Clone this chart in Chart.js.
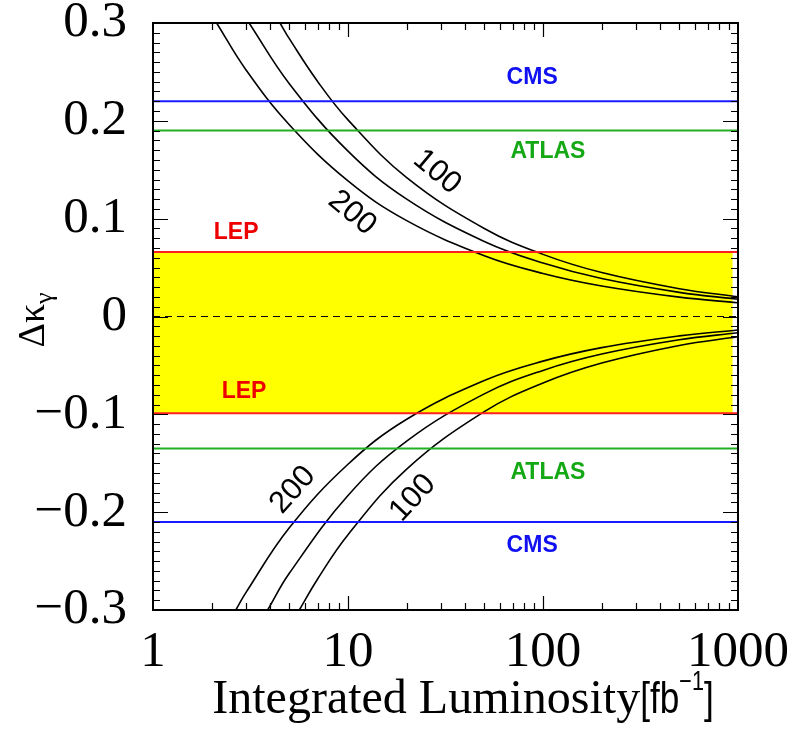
<!DOCTYPE html>
<html>
<head>
<meta charset="utf-8">
<script src="https://cdn.jsdelivr.net/npm/chart.js@4.4.0/dist/chart.umd.min.js"></script>
<style>
  html, body { margin: 0; padding: 0; background: #fff; }
  #wrap { width: 800px; height: 738px; }
</style>
</head>
<body>
<div id="wrap"><canvas id="grafico" width="800" height="738"></canvas></div>
<script>
// Luminosidad integrada (fb^-1) y Δκγ leídos del gráfico original
// curvas superiores
const lum100Arriba = [4.48, 5, 7, 10, 20, 50, 100, 200, 500, 1000];
const dk100Arriba  = [0.30, 0.284, 0.240, 0.201, 0.142, 0.090, 0.0635, 0.0449, 0.0284, 0.0201];
const lumMedArriba = [3.11, 5, 10, 20, 50, 100, 200, 500, 1000];
const dkMedArriba  = [0.30, 0.238, 0.169, 0.120, 0.0767, 0.0546, 0.0388, 0.0247, 0.0176];
const lum200Arriba = [2.12, 3, 5, 10, 20, 50, 100, 200, 500, 1000];
const dk200Arriba  = [0.30, 0.252, 0.196, 0.1386, 0.098, 0.0622, 0.044, 0.0312, 0.0198, 0.014];
// curvas inferiores
const lum200Abajo = [2.66, 3, 5, 10, 20, 50, 100, 200, 500, 1000];
const dk200Abajo  = [-0.30, -0.282, -0.216, -0.151, -0.105, -0.0654, -0.0456, -0.0318, -0.0198, -0.0138];
const lumMedAbajo = [3.87, 5, 10, 20, 50, 100, 200, 500, 1000];
const dkMedAbajo  = [-0.30, -0.2625, -0.183, -0.1274, -0.0791, -0.0551, -0.0384, -0.0238, -0.0166];
const lum100Abajo = [5.63, 7, 10, 20, 50, 100, 200, 500, 1000];
const dk100Abajo  = [-0.30, -0.268, -0.223, -0.156, -0.0973, -0.068, -0.0476, -0.0296, -0.0207];

// límites horizontales
const limiteLEP   = [0.066, -0.099];
const limiteATLAS = [0.19, -0.135];
const limiteCMS   = [0.22, -0.21];
const rangoLum = [1, 1000];
const rangoBanda = [1, 940];

// ticks
const ticksX = [1, 10, 100, 1000];
const ticksXMenores = [2, 3, 4, 5, 6, 7, 8, 9, 20, 30, 40, 50, 60, 70, 80, 90, 200, 300, 400, 500, 600, 700, 800, 900];
const rangoY = [-0.3, 0.3];

// etiquetas de texto (en coordenadas de datos)
const etiquetas = [
  { texto: 'CMS',   x: 88,   y: 0.244,   color: '#1010f0', tipo: 'exp' },
  { texto: 'ATLAS', x: 106,  y: 0.168,   color: '#14a814', tipo: 'exp' },
  { texto: 'LEP',   x: 2.67, y: 0.0854,  color: '#ee0000', tipo: 'exp' },
  { texto: 'LEP',   x: 2.93, y: -0.0772, color: '#ee0000', tipo: 'exp' },
  { texto: 'ATLAS', x: 106,  y: -0.160,  color: '#14a814', tipo: 'exp' },
  { texto: 'CMS',   x: 88,   y: -0.2346, color: '#1010f0', tipo: 'exp' },
  { texto: '100', x: 28.6, y: 0.1477,  color: '#000', tipo: 'curva', angulo: 40 },
  { texto: '200', x: 10.5, y: 0.1058,  color: '#000', tipo: 'curva', angulo: 40 },
  { texto: '200', x: 5.22, y: -0.1774, color: '#000', tipo: 'curva', angulo: -48 },
  { texto: '100', x: 21.5, y: -0.1856, color: '#000', tipo: 'curva', angulo: -47 }
];

const aPuntos = (xs, ys) => xs.map((x, i) => ({ x: x, y: ys[i] }));
const horizontal = (v, r) => [{ x: r[0], y: v }, { x: r[1], y: v }];

function curva(xs, ys) {
  return {
    data: aPuntos(xs, ys),
    borderColor: '#000',
    borderWidth: 1.6,
    pointRadius: 0,
    showLine: true,
    tension: 0.4,
    fill: false
  };
}

function linea(v, color) {
  return {
    data: horizontal(v, rangoLum),
    borderColor: color,
    borderWidth: 2,
    pointRadius: 0,
    showLine: true,
    fill: false
  };
}

// Plugin: marco y marcas hacia dentro en los cuatro lados
const marcoPlugin = {
  id: 'marco',
  afterDatasetsDraw(chart) {
    const { ctx, chartArea: a, scales: { x, y } } = chart;
    ctx.save();
    ctx.strokeStyle = '#000';
    ctx.lineWidth = 1.2;
    ctx.beginPath();
    ticksXMenores.forEach(v => {
      const px = Math.round(x.getPixelForValue(v)) + 0.5;
      ctx.moveTo(px, a.bottom); ctx.lineTo(px, a.bottom - 7);
      ctx.moveTo(px, a.top); ctx.lineTo(px, a.top + 7);
    });
    [10, 100].forEach(v => {
      const px = Math.round(x.getPixelForValue(v)) + 0.5;
      ctx.moveTo(px, a.bottom); ctx.lineTo(px, a.bottom - 14);
      ctx.moveTo(px, a.top); ctx.lineTo(px, a.top + 14);
    });
    for (let i = -30; i <= 30; i++) {
      const py = Math.round(y.getPixelForValue(i / 100)) + 0.5;
      const largo = (i % 10 === 0) ? 15 : 7;
      ctx.moveTo(a.left, py); ctx.lineTo(a.left + largo, py);
      ctx.moveTo(a.right, py); ctx.lineTo(a.right - largo, py);
    }
    ctx.stroke();
    ctx.lineWidth = 2;
    ctx.strokeRect(a.left, a.top, a.width, a.height);
    ctx.restore();
  },
  afterDraw(chart) {
    const { ctx, scales: { x, y } } = chart;
    ctx.save();
    // etiquetas dentro del área
    etiquetas.forEach(e => {
      const px = x.getPixelForValue(e.x);
      const py = y.getPixelForValue(e.y);
      ctx.save();
      ctx.translate(px, py);
      if (e.angulo) ctx.rotate(e.angulo * Math.PI / 180);
      ctx.fillStyle = e.color;
      ctx.textAlign = 'center';
      ctx.textBaseline = 'middle';
      ctx.font = e.tipo === 'exp' ? 'bold 23px "Liberation Sans", Arial, sans-serif'
                                  : '31px "Liberation Sans", Arial, sans-serif';
      ctx.fillText(e.texto, 0, 0);
      ctx.restore();
    });

    // título eje X: Integrated Luminosity[fb^-1]
    ctx.fillStyle = '#000';
    ctx.textBaseline = 'alphabetic';
    ctx.textAlign = 'left';
    const fSerif = '48px "Liberation Serif", "Times New Roman", serif';
    const fSans = '44px "Liberation Sans", Arial, sans-serif';
    const fSup = '27px "Liberation Sans", Arial, sans-serif';
    const t1 = 'Integrated Luminosity', t2 = '[fb', t3 = '\u22121', t4 = ']';
    const esc = 0.8;
    ctx.font = fSerif; const w1 = ctx.measureText(t1).width;
    ctx.font = fSans; const w2 = ctx.measureText(t2).width * esc; const w4 = ctx.measureText(t4).width * esc;
    ctx.font = fSup; const w3 = ctx.measureText(t3).width * esc;
    let cx = 463 - (w1 + w2 + w3 + w4) / 2;
    const base = 713;
    ctx.font = fSerif; ctx.fillText(t1, cx, base); cx += w1;
    ctx.font = fSans;
    ctx.save(); ctx.translate(cx, base); ctx.scale(esc, 1); ctx.fillText(t2, 0, 0); ctx.restore();
    cx += w2;
    ctx.font = fSup;
    ctx.save(); ctx.translate(cx, base - 23); ctx.scale(esc, 1); ctx.fillText(t3, 0, 0); ctx.restore();
    cx += w3;
    ctx.font = fSans;
    ctx.save(); ctx.translate(cx, base); ctx.scale(esc, 1); ctx.fillText(t4, 0, 0); ctx.restore();

    // título eje Y: Δκγ
    ctx.save();
    ctx.translate(44, 320);
    ctx.rotate(-Math.PI / 2);
    ctx.font = '38px "Liberation Serif", "Times New Roman", serif';
    const wd = ctx.measureText('\u0394\u03ba').width;
    ctx.font = '26px "Liberation Serif", "Times New Roman", serif';
    const wg = ctx.measureText('\u03b3').width;
    const sx = -(wd + wg) / 2;
    ctx.font = '38px "Liberation Serif", "Times New Roman", serif';
    ctx.fillText('\u0394\u03ba', sx, 0);
    ctx.font = '26px "Liberation Serif", "Times New Roman", serif';
    ctx.fillText('\u03b3', sx + wd, 8);
    ctx.restore();
    ctx.restore();
  }
};

const datasets = [
  // banda LEP amarilla
  {
    data: horizontal(limiteLEP[0], rangoBanda),
    borderWidth: 0, pointRadius: 0, showLine: true,
    backgroundColor: '#ffff00',
    fill: '+1'
  },
  {
    data: horizontal(limiteLEP[1], rangoBanda),
    borderWidth: 0, pointRadius: 0, showLine: true, fill: false
  },
  // cero discontinuo
  {
    data: horizontal(0, rangoLum),
    borderColor: '#000', borderWidth: 1, borderDash: [7, 5],
    pointRadius: 0, showLine: true, fill: false
  },
  linea(limiteLEP[0], '#ff2020'),
  linea(limiteLEP[1], '#ff2020'),
  linea(limiteATLAS[0], '#22b022'),
  linea(limiteATLAS[1], '#22b022'),
  linea(limiteCMS[0], '#1a1aff'),
  linea(limiteCMS[1], '#1a1aff'),
  curva(lum100Arriba, dk100Arriba),
  curva(lumMedArriba, dkMedArriba),
  curva(lum200Arriba, dk200Arriba),
  curva(lum200Abajo, dk200Abajo),
  curva(lumMedAbajo, dkMedAbajo),
  curva(lum100Abajo, dk100Abajo)
];

new Chart(document.getElementById('grafico'), {
  type: 'scatter',
  data: { datasets: datasets },
  options: {
    responsive: false,
    animation: false,
    layout: { padding: { top: 23, right: 62, left: 0, bottom: 0 } },
    plugins: {
      legend: { display: false },
      tooltip: { enabled: false },
      title: { display: false },
      filler: { drawTime: 'beforeDatasetsDraw' }
    },
    scales: {
      x: {
        type: 'logarithmic',
        min: rangoLum[0],
        max: rangoLum[1],
        grid: { display: false, drawTicks: false },
        border: { display: false },
        afterBuildTicks(scale) {
          scale.ticks = ticksX.map(v => ({ value: v }));
        },
        afterFit(scale) {
          scale.height = 128;
          scale.paddingLeft = 0;
          scale.paddingRight = 0;
        },
        ticks: {
          autoSkip: false,
          maxRotation: 0,
          padding: 12,
          color: '#000',
          font: { family: '"Liberation Serif", "Times New Roman", serif', size: 51 },
          callback: v => String(v)
        }
      },
      y: {
        min: rangoY[0],
        max: rangoY[1],
        grid: { display: false, drawTicks: false },
        border: { display: false },
        afterFit(scale) {
          scale.width = 153;
          scale.paddingTop = 0;
          scale.paddingBottom = 0;
        },
        ticks: {
          stepSize: 0.1,
          padding: 26,
          color: '#000',
          font: { family: '"Liberation Serif", "Times New Roman", serif', size: 51 },
          callback: v => {
            const r = Math.round(v * 10) / 10;
            if (r === 0) return '0';
            return (r < 0 ? '\u2212' : '') + Math.abs(r).toFixed(1);
          }
        }
      }
    }
  },
  plugins: [marcoPlugin]
});
</script>
</body>
</html>
